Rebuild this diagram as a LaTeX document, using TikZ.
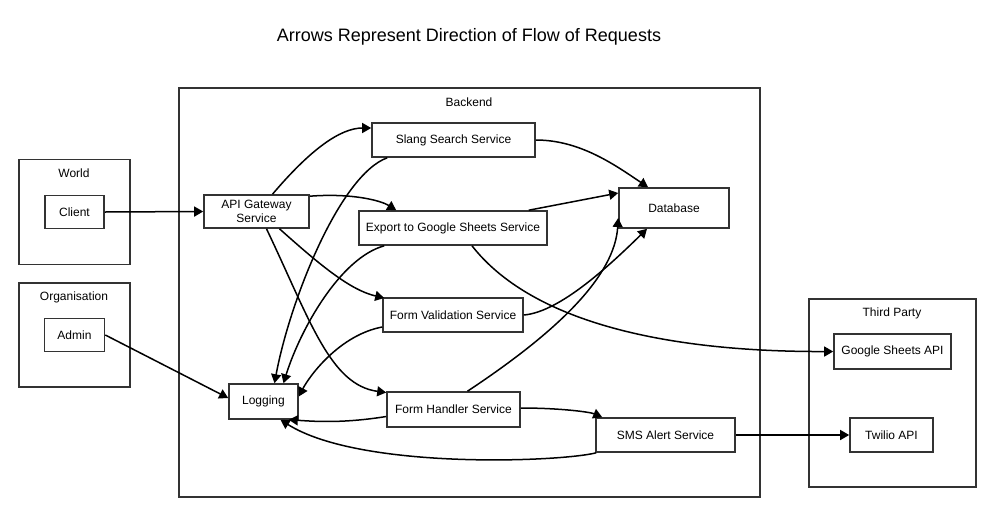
\documentclass[tikz,border=0pt]{standalone}
\usepackage{fontspec}
\setmainfont{Liberation Sans}
\usetikzlibrary{arrows.meta,calc}
\tikzset{
  box/.style={draw=black!80,line width=1.6pt,fill=white,inner sep=0pt,font=\fontsize{12}{14}\selectfont,align=center},
  group/.style={draw=black!80,line width=1.6pt,inner sep=0pt},
  lbl/.style={font=\fontsize{12}{14}\selectfont,inner sep=0pt},
  flow/.style={draw=black,line width=1.5pt,-{Triangle[length=9pt,width=10pt]}}
}
\begin{document}
\begin{tikzpicture}[x=1pt,y=-1pt]
\useasboundingbox (0,0) rectangle (994,515);
\fill[white] (0,0) rectangle (994,515);
% title
\node[font=\fontsize{18}{22}\selectfont,inner sep=0pt] (title) at (469,37) {Arrows Represent Direction of Flow of Requests};
% groups
\node[group,minimum width=581pt,minimum height=409pt] (backend) at (469.5,292.5) {};
\node[lbl] (backendlbl) at (469,102) {Backend};
\node[group,minimum width=111pt,minimum height=105pt] (world) at (74.5,212) {};
\node[lbl] (worldlbl) at (74,173) {World};
\node[group,minimum width=111pt,minimum height=104pt] (org) at (74.5,335) {};
\node[lbl] (orglbl) at (74,297) {Organisation};
\node[group,minimum width=167pt,minimum height=188pt] (third) at (892.5,393) {};
\node[lbl] (thirdlbl) at (892,313) {Third Party};
% nodes
\node[box,minimum width=59pt,minimum height=33pt] (client) at (74.5,212) {Client};
\node[box,minimum width=60pt,minimum height=33pt] (admin) at (74.5,335) {Admin};
\node[box,minimum width=105pt,minimum height=33pt] (gw) at (256.5,211.5) {API Gateway\\Service};
\node[box,minimum width=163pt,minimum height=34pt] (slang) at (453.5,140) {Slang Search Service};
\node[box,minimum width=188pt,minimum height=34pt] (export) at (453,228) {Export to Google Sheets Service};
\node[box,minimum width=110pt,minimum height=40pt] (db) at (674,208) {Database};
\node[box,minimum width=140pt,minimum height=34pt] (fv) at (453,315) {Form Validation Service};
\node[box,minimum width=69pt,minimum height=35pt] (log) at (263.5,401.5) {Logging};
\node[box,minimum width=133pt,minimum height=35pt] (fh) at (453.5,409.5) {Form Handler Service};
\node[box,minimum width=139pt,minimum height=34pt] (sms) at (665.5,435) {SMS Alert Service};
\node[box,minimum width=117pt,minimum height=35pt] (gsa) at (892.5,351.5) {Google Sheets API};
\node[box,minimum width=83pt,minimum height=34pt] (twilio) at (891.5,435) {Twilio API};
% edges
\draw[flow] (client.east) -- (gw.west);
\draw[flow] (admin.east) -- ([yshift=3.5pt]log.west);
\draw[flow] ([xshift=16pt]gw.north) .. controls (310,150) and (340,128) .. ([yshift=12pt]slang.west);
\draw[flow] ([yshift=-2pt]gw.north east) .. controls (350,193) and (380,200) .. ([xshift=38pt]export.north west);
\draw[flow] ([xshift=23pt]gw.south) .. controls (320,265) and (350,290) .. ([xshift=2pt,yshift=17pt]fv.west);
\draw[flow] ([xshift=10pt]gw.south) .. controls (310,320) and (330,385) .. ([yshift=17pt]fh.west);
\draw[flow] (slang.east) .. controls (580,140) and (615,165) .. ([xshift=-26pt]db.north);
\draw[flow] ([xshift=-19pt]export.north east) -- ([yshift=15pt]db.west);
\draw[flow] (fv.east) .. controls (560,312) and (610,265) .. ([xshift=-27pt]db.south);
\draw[flow] ([xshift=14pt]fh.north) .. controls (560,330) and (615,275) .. ([yshift=-10pt]db.west);
\draw[flow] ([xshift=19pt]export.south) .. controls (530,320) and (660,352) .. (gsa.west);
\draw[flow] ([xshift=16pt]slang.south west) .. controls (340,175) and (290,300) .. ([xshift=11pt]log.north);
\draw[flow] ([xshift=26pt]export.south west) .. controls (340,258) and (300,330) .. ([xshift=20pt]log.north);
\draw[flow] ([yshift=-12pt]fv.west) .. controls (340,335) and (310,375) .. ([yshift=5pt]log.east);
\draw[flow] ([yshift=-7pt]fh.west) .. controls (340,424) and (310,421) .. ([xshift=-10pt]log.south east);
\draw[flow] ([xshift=1pt]sms.south west) .. controls (560,462) and (360,470) .. ([xshift=17pt]log.south);
\draw[flow] ([yshift=1.5pt]fh.east) .. controls (560,408) and (590,412) .. ([xshift=7pt]sms.north west);
\draw[flow] (sms.east) -- (twilio.west);
\end{tikzpicture}
\end{document}
